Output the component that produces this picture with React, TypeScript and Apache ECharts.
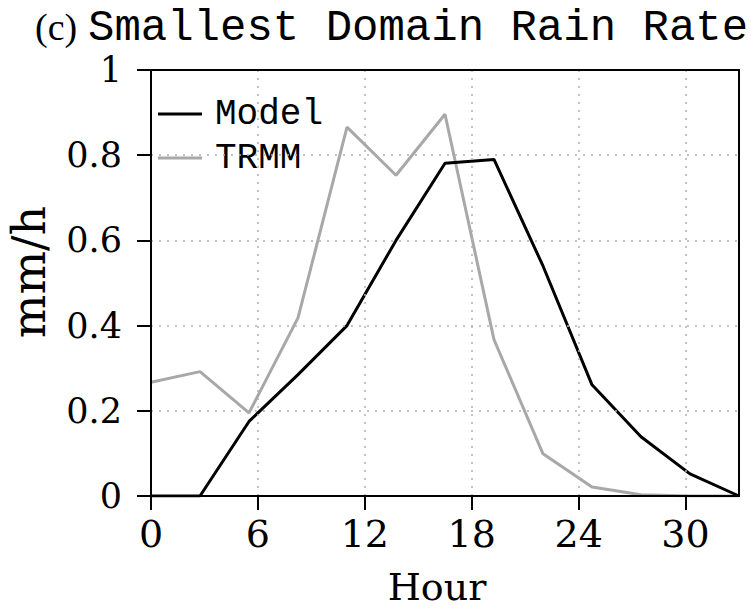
import React, { useEffect, useRef } from "react";
import * as echarts from "echarts";

const hours = [0, 2.75, 5.5, 8.25, 11, 13.75, 16.5, 19.25, 22, 24.75, 27.5, 30.25, 33];
const modelValues = [0, 0, 0.175, 0.285, 0.4, 0.6, 0.781, 0.79, 0.54, 0.261, 0.139, 0.052, 0];
const trmmValues = [0.267, 0.292, 0.195, 0.418, 0.866, 0.753, 0.896, 0.367, 0.099, 0.021, 0.003, 0, 0];
const seriesNames = ["Model", "TRMM"];
const xTicks = [0, 6, 12, 18, 24, 30];
const yTicks = [0, 0.2, 0.4, 0.6, 0.8, 1];

export default function App() {
  const ref = useRef<HTMLDivElement>(null);
  useEffect(() => {
    if (!ref.current) return;
    const chart = echarts.init(ref.current, null, { renderer: "svg" });
    const serif = "DejaVu Serif";
    const mono = "Liberation Mono";
    const frameAxis = {
      show: true,
      min: 0,
      axisLine: { show: true, onZero: false, lineStyle: { color: "#000", width: 2 } },
      axisTick: { show: false },
      axisLabel: { show: false },
      splitLine: { show: false },
      z: 10,
    };
    chart.setOption({
      animation: false,
      backgroundColor: "#ffffff",
      title: [
        {
          text: "(c)",
          left: 30,
          top: 3,
          textStyle: { fontFamily: "Liberation Serif", fontSize: 38, fontWeight: "normal", color: "#000" },
        },
        {
          text: "Smallest Domain Rain Rate",
          left: 83,
          top: 1,
          textStyle: { fontFamily: mono, fontSize: 44, fontWeight: "normal", color: "#000", lineHeight: 44 },
        },
      ],
      graphic: [
        {
          type: "text",
          x: 29,
          y: 272,
          rotation: Math.PI / 2,
          style: {
            text: "mm/h",
            fontFamily: serif,
            fontSize: 46,
            fill: "#000",
            textAlign: "center",
            textVerticalAlign: "middle",
          },
        },
      ],
      legend: {
        orient: "vertical",
        left: 153,
        top: 91,
        icon: "rect",
        itemWidth: 44,
        itemHeight: 3,
        itemGap: 8,
        data: seriesNames,
        textStyle: { fontFamily: mono, fontSize: 36, color: "#000", lineHeight: 30, padding: [0, 0, 0, 8] },
      },
      grid: {
        left: 151,
        right: 12,
        top: 70,
        bottom: 113,
        outerBoundsMode: "none",
        containLabel: false,
      },
      xAxis: [
        {
          type: "value",
          min: 0,
          max: 33,
          interval: 6,
          name: "Hour",
          nameLocation: "middle",
          nameGap: 72,
          nameTextStyle: {
            fontFamily: serif,
            fontSize: 38,
            lineHeight: 38,
            color: "#000",
            padding: [0, 16, 0, 0],
          },
          axisLine: { show: true, lineStyle: { color: "#000", width: 2 } },
          axisTick: {
            show: true,
            length: 14,
            customValues: xTicks,
            lineStyle: { color: "#000", width: 2 },
          },
          axisLabel: {
            margin: 19,
            fontFamily: serif,
            fontSize: 38,
            color: "#000",
            customValues: xTicks,
            formatter: (v: number) => (xTicks.includes(v) ? String(v) : ""),
          },
          splitLine: { show: true, lineStyle: { color: "#b0b0b0", type: [2, 6], width: 1.5 } },
          z: 5,
        },
        { ...frameAxis, type: "value", max: 33, position: "top" },
      ],
      yAxis: [
        {
          type: "value",
          min: 0,
          max: 1,
          interval: 0.2,
          axisLine: { show: true, lineStyle: { color: "#000", width: 2 } },
          axisTick: { show: true, length: 14, lineStyle: { color: "#000", width: 2 } },
          axisLabel: {
            margin: 29,
            fontFamily: serif,
            fontSize: 35,
            color: "#000",
            formatter: (v: number) => {
              const t = yTicks.find((y) => Math.abs(y - v) < 1e-9);
              if (t === undefined) return "";
              if (t === 0) return "0";
              if (t === 1) return "1";
              return t.toFixed(1);
            },
          },
          splitLine: { show: true, lineStyle: { color: "#b0b0b0", type: [2, 6], width: 1.5 } },
          z: 5,
        },
        { ...frameAxis, type: "value", max: 1, position: "right" },
      ],
      series: [
        {
          name: seriesNames[0],
          type: "line",
          symbol: "none",
          data: hours.map((h, i) => [h, modelValues[i]]),
          lineStyle: { color: "#000000", width: 3 },
          itemStyle: { color: "#000000" },
          z: 3,
        },
        {
          name: seriesNames[1],
          type: "line",
          symbol: "none",
          data: hours.map((h, i) => [h, trmmValues[i]]),
          lineStyle: { color: "#a8a8a8", width: 3 },
          itemStyle: { color: "#a8a8a8" },
          z: 2,
        },
      ],
    });
    return () => chart.dispose();
  }, []);
  return (
    <div
      ref={ref}
      style={{ position: "absolute", left: 0, top: 0, width: 751, height: 609 }}
    />
  );
}
